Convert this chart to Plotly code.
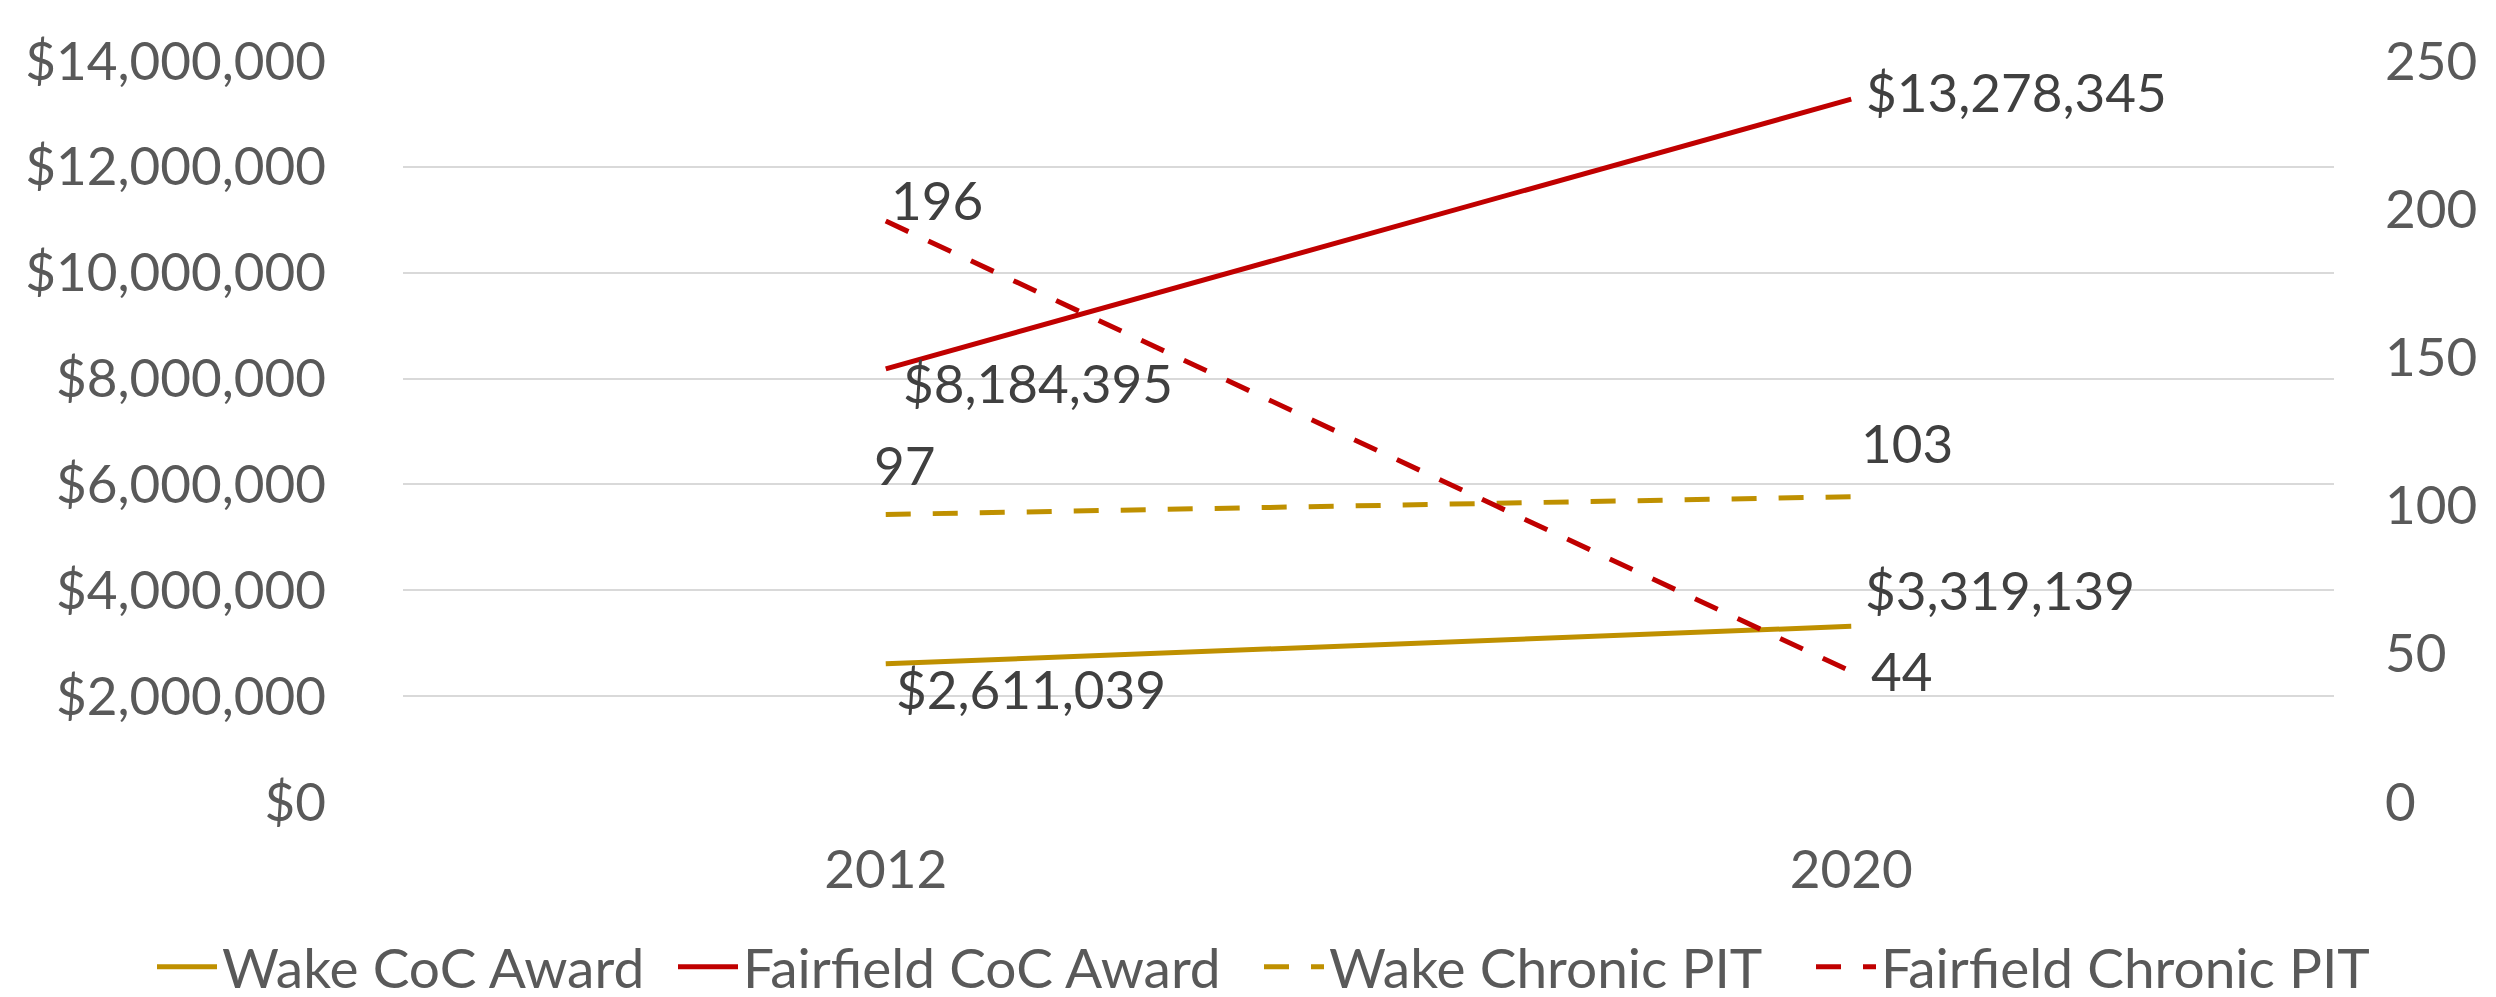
import plotly.graph_objects as go

years = ["2012", "2020"]
wake_award = [2611039, 3319139]
fairfield_award = [8184395, 13278345]
wake_pit = [97, 103]
fairfield_pit = [196, 44]

GOLD = "#BF9000"
RED = "#C00000"
TXT = "#595959"
FONT = "Lato"
FS = 53

xpos = list(range(len(years)))

fig = go.Figure()
fig.add_trace(go.Scatter(x=xpos, y=wake_award, name="Wake CoC Award", mode="lines",
                         line=dict(color=GOLD, width=5), yaxis="y", legend="legend"))
fig.add_trace(go.Scatter(x=xpos, y=fairfield_award, name="Fairfield CoC Award", mode="lines",
                         line=dict(color=RED, width=5), yaxis="y", legend="legend2"))
fig.add_trace(go.Scatter(x=xpos, y=wake_pit, name="Wake Chronic PIT", mode="lines",
                         line=dict(color=GOLD, width=5, dash="25px,22px"), yaxis="y2",
                         legend="legend3"))
fig.add_trace(go.Scatter(x=xpos, y=fairfield_pit, name="Fairfield Chronic PIT", mode="lines",
                         line=dict(color=RED, width=5, dash="25px,22px"), yaxis="y2",
                         legend="legend4"))

def money(v):
    return "${:,.0f}".format(v)

ann = []
# (x index, y, text, yref, xshift, yshift)
ann.append((0, fairfield_pit[0], str(fairfield_pit[0]), "y2", 3, 22))
ann.append((0, fairfield_award[0], money(fairfield_award[0]), "y", 15, -14))
ann.append((0, wake_pit[0], str(wake_pit[0]), "y2", -14, 50))
ann.append((0, wake_award[0], money(wake_award[0]), "y", 8, -25))
ann.append((1, fairfield_award[1], money(fairfield_award[1]), "y", 13, 8))
ann.append((1, wake_pit[1], str(wake_pit[1]), "y2", 8, 54))
ann.append((1, wake_award[1], money(wake_award[1]), "y", 12, 37))
ann.append((1, fairfield_pit[1], str(fairfield_pit[1]), "y2", 18, 1))

annotations = []
for xi, y, t, yr, xs, ys in ann:
    annotations.append(dict(x=xpos[xi], y=y, xref="x", yref=yr, text=t, showarrow=False,
                            xanchor="left", yanchor="middle", xshift=xs, yshift=ys,
                            font=dict(family=FONT, size=FS, color="#404040")))

# legend entry left edges (pixels in the figure)
PL, PW, PB, PH = 395, 1931, 794, 741
legend_left = [144, 665, 1251, 1803]

def legend_cfg(px):
    return dict(orientation="h", xref="paper", yref="paper", x=(px - PL) / PW, xanchor="left",
                y=(PB - 959) / PH, yanchor="middle", font=dict(family=FONT, size=55, color=TXT),
                itemwidth=60, bgcolor="rgba(0,0,0,0)")

fig.update_layout(
    width=2496, height=997,
    margin=dict(l=395, r=170, t=53, b=203, autoexpand=False),
    paper_bgcolor="white", plot_bgcolor="white",
    font=dict(family=FONT, size=FS, color=TXT),
    showlegend=True,
    legend=legend_cfg(legend_left[0]),
    legend2=legend_cfg(legend_left[1]),
    legend3=legend_cfg(legend_left[2]),
    legend4=legend_cfg(legend_left[3]),
    xaxis=dict(range=[-0.5, 1.5], tickvals=xpos, ticktext=years, showgrid=False, showline=False,
               zeroline=False, ticks="", tickfont=dict(family=FONT, size=FS, color=TXT),
               ticklabelstandoff=32),
    yaxis=dict(range=[0, 14000000], dtick=2000000, tickformat="$,.0f", showgrid=True,
               gridcolor="#D9D9D9", gridwidth=2, zeroline=False, showline=False, ticks="",
               tickfont=dict(family=FONT, size=FS, color=TXT), ticklabelstandoff=76),
    yaxis2=dict(range=[0, 250], dtick=50, overlaying="y", side="right", showgrid=False,
                zeroline=False, showline=False, ticks="",
                tickfont=dict(family=FONT, size=FS, color=TXT), ticklabelstandoff=50),
    annotations=annotations,
)

fig.write_html("out.html")
